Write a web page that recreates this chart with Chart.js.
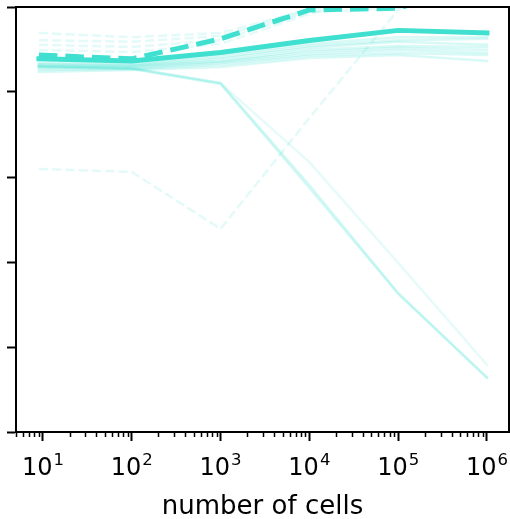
<!DOCTYPE html>
<html><head><meta charset="utf-8">
<script src="https://cdn.jsdelivr.net/npm/chart.js@4.4.1/dist/chart.umd.min.js"></script>
<style>html,body{margin:0;padding:0;background:#fff}#wrap{width:510px;height:519px;position:relative}</style>
</head><body><div id="wrap"><canvas id="c"></canvas></div>
<script>
// ---- data ----
const cells = [9, 100, 1000, 10000, 100000, 1000000];

const mainSolid  = [0.878, 0.873, 0.893, 0.921, 0.945, 0.939];
const mainDashed = [0.887, 0.878, 0.925, 0.993, 0.997, 1.060];

const faintSolid1 = [0.868, 0.866, 0.887, 0.913, 0.929, 0.929];
const faintSolid2 = [0.866, 0.864, 0.882, 0.908, 0.922, 0.925];
const faintSolid3 = [0.864, 0.861, 0.878, 0.904, 0.918, 0.911];
const faintSolid4 = [0.861, 0.861, 0.873, 0.899, 0.908, 0.906];
const faintSolid5 = [0.859, 0.859, 0.871, 0.894, 0.904, 0.899];
const faintSolid6 = [0.856, 0.856, 0.868, 0.889, 0.899, 0.892];
const faintSolid7 = [0.852, 0.854, 0.864, 0.885, 0.892, 0.887];
const faintSolid8 = [0.847, 0.852, 0.859, 0.880, 0.887, 0.873];

const dropSolidA  = [0.861, 0.856, 0.821, 0.581, 0.327, 0.129];
const dropSolidA2 = [0.859, 0.854, 0.819, 0.574, 0.325, 0.127];
const dropSolidB  = [0.861, 0.856, 0.821, 0.635, 0.398, 0.158];

const faintDashed1 = [0.939, 0.929, 0.939, 0.995, 1.040, 1.064];
const faintDashed2 = [0.922, 0.918, 0.932, 0.991, 1.040, 1.064];
const faintDashed3 = [0.911, 0.906, 0.922, 0.988, 0.998, 1.064];
const faintDashed4 = [0.899, 0.894, 0.913, 0.984, 1.040, 1.064];
const lowDashed    = [0.619, 0.612, 0.478, 0.739, 0.993, 1.110];

const xTickValues = [10, 100, 1000, 10000, 100000, 1000000];
const xTickBase = '10';
const xTickExponents = ['1', '2', '3', '4', '5', '6'];
const yTickValues = [0, 0.2, 0.4, 0.6, 0.8, 1.0];
const xLabel = 'number of cells';

// ---- styling ----
const RGB = '64,224,208';
const FONT = 'DejaVu Sans';

function line(values, alpha, width, dashed) {
  return {
    data: values.map((v, i) => ({x: cells[i], y: v})),
    borderColor: `rgba(${RGB},${alpha})`,
    borderWidth: width,
    borderDash: dashed ? [3.7 * width, 1.6 * width] : [],
    borderCapStyle: dashed ? 'butt' : 'square',
    borderJoinStyle: 'round',
    pointRadius: 0,
    tension: 0,
    fill: false
  };
}

const datasets = [
  line(mainSolid, 1, 5, false),
  line(mainDashed, 1, 5, true),
  line(faintSolid1, 0.2, 2.5, false),
  line(faintSolid2, 0.2, 2.5, false),
  line(faintSolid3, 0.2, 2.5, false),
  line(faintSolid4, 0.2, 2.5, false),
  line(faintSolid5, 0.2, 2.5, false),
  line(faintSolid6, 0.2, 2.5, false),
  line(faintSolid7, 0.2, 2.5, false),
  line(faintSolid8, 0.2, 2.5, false),
  line(dropSolidA, 0.2, 2.5, false),
  line(dropSolidA2, 0.2, 2.5, false),
  line(dropSolidB, 0.13, 2.5, false),
  line(faintDashed1, 0.15, 2.5, true),
  line(faintDashed2, 0.15, 2.5, true),
  line(faintDashed3, 0.15, 2.5, true),
  line(faintDashed4, 0.15, 2.5, true),
  line(lowDashed, 0.15, 2.5, true)
];

const framePlugin = {
  id: 'frame',
  afterDraw(chart) {
    const {ctx, chartArea: a, scales} = chart;
    const xs = scales.x;
    ctx.save();
    ctx.strokeStyle = '#000';
    ctx.lineWidth = 2;
    ctx.beginPath();
    ctx.moveTo(a.left, a.top); ctx.lineTo(a.right, a.top); ctx.lineTo(a.right, a.bottom);
    ctx.stroke();
    // minor ticks on log axis
    ctx.lineWidth = 1.5;
    ctx.beginPath();
    for (let d = 1; d <= 1e6; d *= 10) {
      for (let m = 2; m <= 9; m++) {
        const v = m * d;
        if (v < xs.min || v > xs.max) continue;
        const px = Math.round(xs.getPixelForValue(v)) + 0.5;
        ctx.moveTo(px, a.bottom);
        ctx.lineTo(px, a.bottom + 5);
      }
    }
    ctx.stroke();
    // tick labels 10^n with raised exponent
    ctx.fillStyle = '#000';
    ctx.textBaseline = 'alphabetic';
    ctx.textAlign = 'left';
    const baseFont = `24px "${FONT}"`, expFont = `16.5px "${FONT}"`;
    xTickValues.forEach((v, i) => {
      const px = xs.getPixelForValue(v);
      ctx.font = baseFont;
      const wb = ctx.measureText(xTickBase).width;
      ctx.font = expFont;
      const we = ctx.measureText(xTickExponents[i]).width;
      const x0 = px - (wb + 1 + we) / 2;
      ctx.font = baseFont;
      ctx.fillText(xTickBase, x0, 475);
      ctx.font = expFont;
      ctx.fillText(xTickExponents[i], x0 + wb + 1, 465);
    });
    ctx.restore();
  }
};

new Chart(document.getElementById('c'), {
  type: 'line',
  data: {datasets},
  options: {
    responsive: true,
    maintainAspectRatio: false,
    animation: false,
    layout: {padding: {left: 0, top: 7, right: 1, bottom: 0}},
    plugins: {legend: {display: false}, tooltip: {enabled: false}},
    scales: {
      x: {
        type: 'logarithmic',
        min: 4.97,
        max: 1.77e6,
        afterBuildTicks: (s) => { s.ticks = xTickValues.map(v => ({value: v})); },
        afterFit: (s) => { s.height = 87; s.paddingLeft = 0; s.paddingRight = 0; },
        ticks: {display: false},
        grid: {drawOnChartArea: false, drawTicks: true, tickLength: 9, tickWidth: 2, tickColor: '#000'},
        border: {display: true, color: '#000', width: 2},
        title: {display: true, text: xLabel, color: '#000', font: {family: FONT, size: 26}, padding: {top: 4, bottom: -4}}
      },
      y: {
        type: 'linear',
        min: 0,
        max: 1,
        afterBuildTicks: (s) => { s.ticks = yTickValues.map(v => ({value: v})); },
        afterFit: (s) => { s.width = 16; },
        ticks: {display: false},
        grid: {drawOnChartArea: false, drawTicks: true, tickLength: 9, tickWidth: 2, tickColor: '#000'},
        border: {display: true, color: '#000', width: 2}
      }
    }
  },
  plugins: [framePlugin]
});
</script>
</body></html>
